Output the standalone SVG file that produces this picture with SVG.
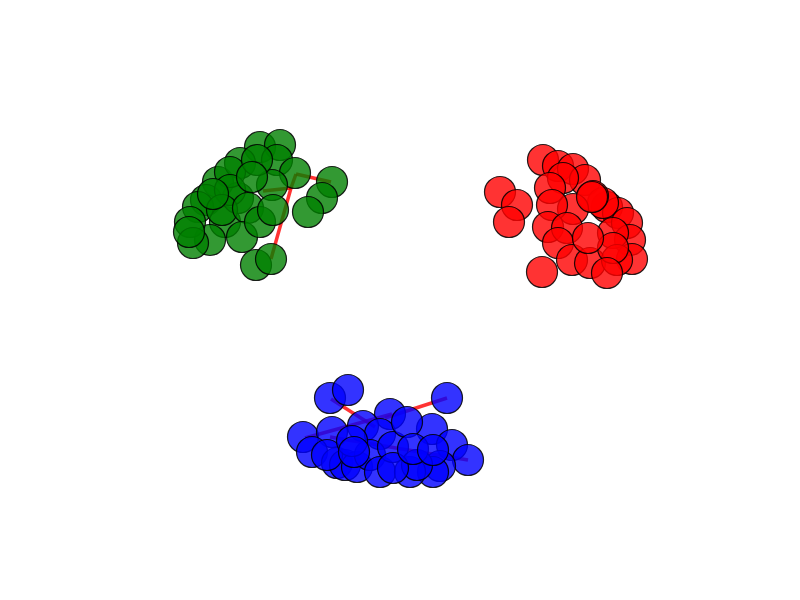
<svg xmlns="http://www.w3.org/2000/svg" width="800" height="600" viewBox="0 0 800 600">
<style>
.e{stroke:#ff0000;stroke-width:3.5;stroke-opacity:0.8;fill:none;stroke-linecap:butt}
circle{stroke:#000;stroke-width:1.2;stroke-opacity:0.85;fill-opacity:0.8}
.g circle{fill:#008000}
.r circle{fill:#ff0000}
.b circle{fill:#0000ff}
</style>
<rect width="800" height="600" fill="#fff"/>
<g id="edges">
<line class="e" x1="263" y1="191" x2="291" y2="188"/>
<line class="e" x1="291" y1="188" x2="296" y2="174"/>
<line class="e" x1="296" y1="174" x2="331" y2="182"/>
<line class="e" x1="291" y1="188" x2="271" y2="259"/>
<line class="e" x1="331" y1="399" x2="375" y2="427"/>
<line class="e" x1="447" y1="398" x2="385" y2="418"/>
<line class="e" x1="305" y1="438" x2="392" y2="414"/>
<line class="e" x1="330" y1="437" x2="468" y2="460"/>
</g>
<g class="g">
<g id="g1"><circle cx="260" cy="147" r="15.5"/></g>
<g id="g2"><circle cx="280" cy="145" r="15.5"/></g>
<g id="g27"><circle cx="218" cy="182" r="15.5"/></g>
<g id="g28"><circle cx="206" cy="200" r="15.5"/></g>
<g id="g29"><circle cx="225" cy="222" r="15.5"/></g>
<g id="g30"><circle cx="238" cy="198" r="15.5"/></g>
<g id="g3"><circle cx="240" cy="163" r="15.5"/></g>
<g id="g4"><circle cx="277" cy="160" r="15.5"/></g>
<g id="g5"><circle cx="230" cy="172" r="15.5"/></g>
<g id="g6"><circle cx="295" cy="173" r="15.5"/></g>
<g id="g7"><circle cx="332" cy="182" r="15.5"/></g>
<g id="g8"><circle cx="272" cy="185" r="15.5"/></g>
<g id="g9"><circle cx="230" cy="190" r="15.5"/></g>
<g id="g10"><circle cx="322" cy="198" r="15.5"/></g>
<g id="g11"><circle cx="198" cy="207" r="15.5"/></g>
<g id="g12"><circle cx="222" cy="210" r="15.5"/></g>
<g id="g13"><circle cx="248" cy="208" r="15.5"/></g>
<g id="g14"><circle cx="308" cy="212" r="15.5"/></g>
<g id="g15"><circle cx="242" cy="237" r="15.5"/></g>
<g id="g16"><circle cx="210" cy="240" r="15.5"/></g>
<g id="g17"><circle cx="190" cy="222" r="15.5"/></g>
<g id="g18"><circle cx="193" cy="243" r="15.5"/></g>
<g id="g19"><circle cx="260" cy="222" r="15.5"/></g>
<g id="g20"><circle cx="273" cy="210" r="15.5"/></g>
<g id="g21"><circle cx="189" cy="232" r="15.5"/></g>
<g id="g22"><circle cx="213" cy="194" r="15.5"/></g>
<g id="g23"><circle cx="257" cy="160" r="15.5"/></g>
<g id="g24"><circle cx="252" cy="177" r="15.5"/></g>
<g id="g25"><circle cx="256" cy="265" r="15.5"/></g>
<g id="g26"><circle cx="271" cy="259" r="15.5"/></g>
</g>
<g class="r">
<g id="r1"><circle cx="543" cy="160" r="15.5"/></g>
<g id="r2"><circle cx="558" cy="166" r="15.5"/></g>
<g id="r3"><circle cx="573" cy="169" r="15.5"/></g>
<g id="r4"><circle cx="585" cy="180" r="15.5"/></g>
<g id="r5"><circle cx="563" cy="178" r="15.5"/></g>
<g id="r6"><circle cx="550" cy="188" r="15.5"/></g>
<g id="r7"><circle cx="607" cy="207" r="15.5"/></g>
<g id="r8"><circle cx="618" cy="213" r="15.5"/></g>
<g id="r9"><circle cx="603" cy="203" r="15.5"/></g>
<g id="r10"><circle cx="593" cy="196" r="15.5"/></g>
<g id="r11"><circle cx="500" cy="192" r="15.5"/></g>
<g id="r12"><circle cx="517" cy="205" r="15.5"/></g>
<g id="r13"><circle cx="509" cy="222" r="15.5"/></g>
<g id="r14"><circle cx="573" cy="209" r="15.5"/></g>
<g id="r15"><circle cx="552" cy="205" r="15.5"/></g>
<g id="r16"><circle cx="548" cy="227" r="15.5"/></g>
<g id="r17"><circle cx="567" cy="228" r="15.5"/></g>
<g id="r18"><circle cx="627" cy="223" r="15.5"/></g>
<g id="r19"><circle cx="630" cy="240" r="15.5"/></g>
<g id="r20"><circle cx="613" cy="233" r="15.5"/></g>
<g id="r21"><circle cx="558" cy="243" r="15.5"/></g>
<g id="r22"><circle cx="572" cy="260" r="15.5"/></g>
<g id="r23"><circle cx="590" cy="263" r="15.5"/></g>
<g id="r24"><circle cx="632" cy="259" r="15.5"/></g>
<g id="r25"><circle cx="617" cy="260" r="15.5"/></g>
<g id="r26"><circle cx="613" cy="248" r="15.5"/></g>
<g id="r27"><circle cx="588" cy="238" r="15.5"/></g>
<g id="r28"><circle cx="607" cy="273" r="15.5"/></g>
<g id="r29"><circle cx="542" cy="272" r="15.5"/></g>
<g id="r30"><circle cx="592" cy="197" r="15.5"/></g>
</g>
<g class="b">
<g id="b1"><circle cx="330" cy="398" r="15.5"/></g>
<g id="b2"><circle cx="348" cy="390" r="15.5"/></g>
<g id="b3"><circle cx="447" cy="398" r="15.5"/></g>
<g id="b4"><circle cx="390" cy="414" r="15.5"/></g>
<g id="b5"><circle cx="432" cy="429" r="15.5"/></g>
<g id="b6"><circle cx="303" cy="437" r="15.5"/></g>
<g id="b7"><circle cx="332" cy="432" r="15.5"/></g>
<g id="b8"><circle cx="312" cy="452" r="15.5"/></g>
<g id="b9"><circle cx="337" cy="463" r="15.5"/></g>
<g id="b10"><circle cx="345" cy="465" r="15.5"/></g>
<g id="b11"><circle cx="327" cy="455" r="15.5"/></g>
<g id="b12"><circle cx="363" cy="426" r="15.5"/></g>
<g id="b13"><circle cx="380" cy="434" r="15.5"/></g>
<g id="b14"><circle cx="357" cy="467" r="15.5"/></g>
<g id="b15"><circle cx="370" cy="455" r="15.5"/></g>
<g id="b16"><circle cx="380" cy="472" r="15.5"/></g>
<g id="b17"><circle cx="393" cy="447" r="15.5"/></g>
<g id="b18"><circle cx="452" cy="445" r="15.5"/></g>
<g id="b19"><circle cx="468" cy="460" r="15.5"/></g>
<g id="b20"><circle cx="440" cy="466" r="15.5"/></g>
<g id="b21"><circle cx="433" cy="472" r="15.5"/></g>
<g id="b22"><circle cx="410" cy="472" r="15.5"/></g>
<g id="b23"><circle cx="417" cy="465" r="15.5"/></g>
<g id="b24"><circle cx="407" cy="422" r="15.5"/></g>
<g id="b25"><circle cx="352" cy="441" r="15.5"/></g>
<g id="b26"><circle cx="354" cy="452" r="15.5"/></g>
<g id="b27"><circle cx="393" cy="468" r="15.5"/></g>
<g id="b28"><circle cx="413" cy="449" r="15.5"/></g>
<g id="b29"><circle cx="433" cy="450" r="15.5"/></g>
</g>
</svg>
